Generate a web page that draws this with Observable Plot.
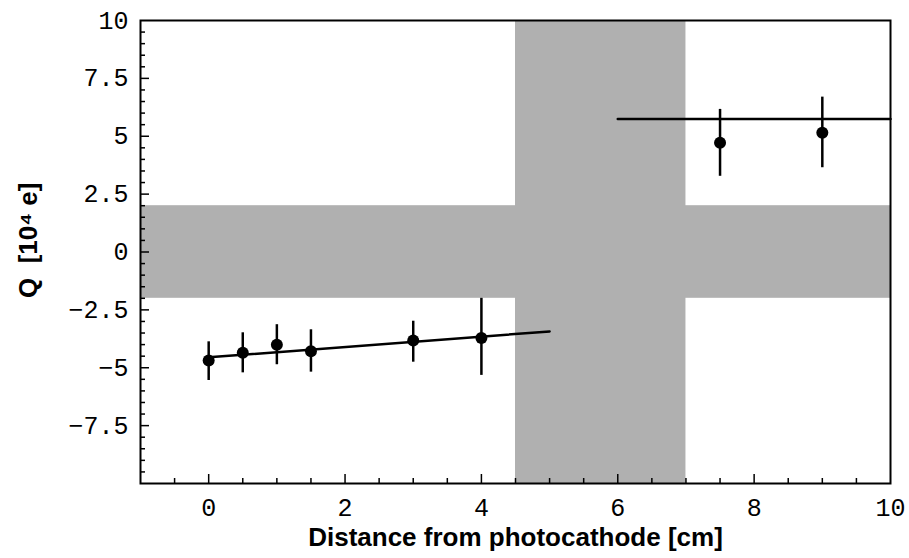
<!DOCTYPE html>
<html>
<head>
<meta charset="utf-8">
<script src="https://cdn.jsdelivr.net/npm/d3@7"></script>
<script src="https://cdn.jsdelivr.net/npm/@observablehq/plot@0.6"></script>
<style>
  html, body { margin: 0; padding: 0; background: #fff; }
</style>
</head>
<body>
<div id="chart"></div>
<script>
// Measured points: distance [cm], charge Q [10^4 e]
const distance = [0, 0.5, 1, 1.5, 3, 4, 7.5, 9];
const charge   = [-4.69, -4.35, -4.01, -4.29, -3.82, -3.71, 4.72, 5.15];
const errLow   = [-5.55, -5.22, -4.87, -5.19, -4.76, -5.33, 3.27, 3.64];
const errHigh  = [-3.88, -3.49, -3.14, -3.36, -2.99, -2.00, 6.16, 6.69];

// Fit lines
const fitLowX = [0, 5];
const fitLowY = [-4.55, -3.43];
const fitHighX = [6, 10];
const fitHighY = [5.75, 5.75];

// Shaded bands (x1, x2, y1, y2)
const bandX1 = [-1, 4.5];
const bandX2 = [10, 7];
const bandY1 = [-2, -10];
const bandY2 = [2, 10];

// Ticks
const xTickLabels = [0, 2, 4, 6, 8, 10];
const yTickLabels = [-7.5, -5, -2.5, 0, 2.5, 5, 7.5, 10];
const xMinor = d3.range(-0.5, 10, 0.5).filter(v => v % 2 !== 0);
const yMinor = d3.range(-9.5, 10, 0.5).filter(v => v % 2.5 !== 0);
const xMajor = [0, 2, 4, 6, 8];
const yMajor = [-7.5, -5, -2.5, 0, 2.5, 5, 7.5];

const points = distance.map((d, i) => ({x: d, q: charge[i], lo: errLow[i], hi: errHigh[i]}));
const fitLow = fitLowX.map((x, i) => ({x, y: fitLowY[i]}));
const fitHigh = fitHighX.map((x, i) => ({x, y: fitHighY[i]}));
const bands = bandX1.map((x1, i) => ({x1, x2: bandX2[i], y1: bandY1[i], y2: bandY2[i]}));

const W = 909, H = 558;
const mL = 140, mR = 19, mT = 20, mB = 75;
const innerW = W - mL - mR, innerH = H - mT - mB;

const tickFont = "Liberation Mono, Courier New, monospace";
const labelFont = "Liberation Sans, Arial, Helvetica, sans-serif";

const chart = Plot.plot({
  width: W,
  height: H,
  marginLeft: mL,
  marginRight: mR,
  marginTop: mT,
  marginBottom: mB,
  x: {domain: [-1, 10]},
  y: {domain: [-10, 10]},
  style: {background: "#fff", color: "#000"},
  marks: [
    Plot.rect(bands, {x1: "x1", x2: "x2", y1: "y1", y2: "y2", fill: "#b0b0b0"}),
    // inward ticks: bottom
    Plot.tickX(xMajor, {x: d => d, insetTop: innerH - 9, stroke: "#000", strokeWidth: 1.5}),
    Plot.tickX(xMinor, {x: d => d, insetTop: innerH - 5, stroke: "#000", strokeWidth: 1.5}),
    // inward ticks: left
    Plot.tickY(yMajor, {y: d => d, insetRight: innerW - 9, stroke: "#000", strokeWidth: 1.5}),
    Plot.tickY(yMinor, {y: d => d, insetRight: innerW - 5, stroke: "#000", strokeWidth: 1.5}),
    Plot.frame({stroke: "#000", strokeWidth: 2}),
    Plot.ruleX(points, {x: "x", y1: "lo", y2: "hi", stroke: "#000", strokeWidth: 2.5}),
    Plot.line(fitLow, {x: "x", y: "y", stroke: "#000", strokeWidth: 2.5}),
    Plot.line(fitHigh, {x: "x", y: "y", stroke: "#000", strokeWidth: 2.5}),
    Plot.dot(points, {x: "x", y: "q", r: 6, fill: "#000"}),
    Plot.axisX({ticks: xTickLabels, tickSize: 0, tickPadding: 15, label: null,
      fontSize: 25, fontFamily: tickFont, fill: "#000"}),
    Plot.axisY({ticks: yTickLabels, tickSize: 0, tickPadding: 12, label: null,
      fontSize: 25, fontFamily: tickFont, fill: "#000", tickFormat: d => String(d).replace("-", "\u2212")}),
    Plot.text(["Distance from photocathode [cm]"], {frameAnchor: "bottom", dy: 62,
      fontSize: 26, fontWeight: "bold", fontFamily: labelFont, fill: "#000"}),
    Plot.text(["Q  [10\u2074 e]"], {frameAnchor: "left", dx: -112, dy: 46, rotate: -90,
      fontSize: 26, fontWeight: "bold", fontFamily: labelFont, fill: "#000"})
  ]
});

document.getElementById("chart").appendChild(chart);
</script>
</body>
</html>
